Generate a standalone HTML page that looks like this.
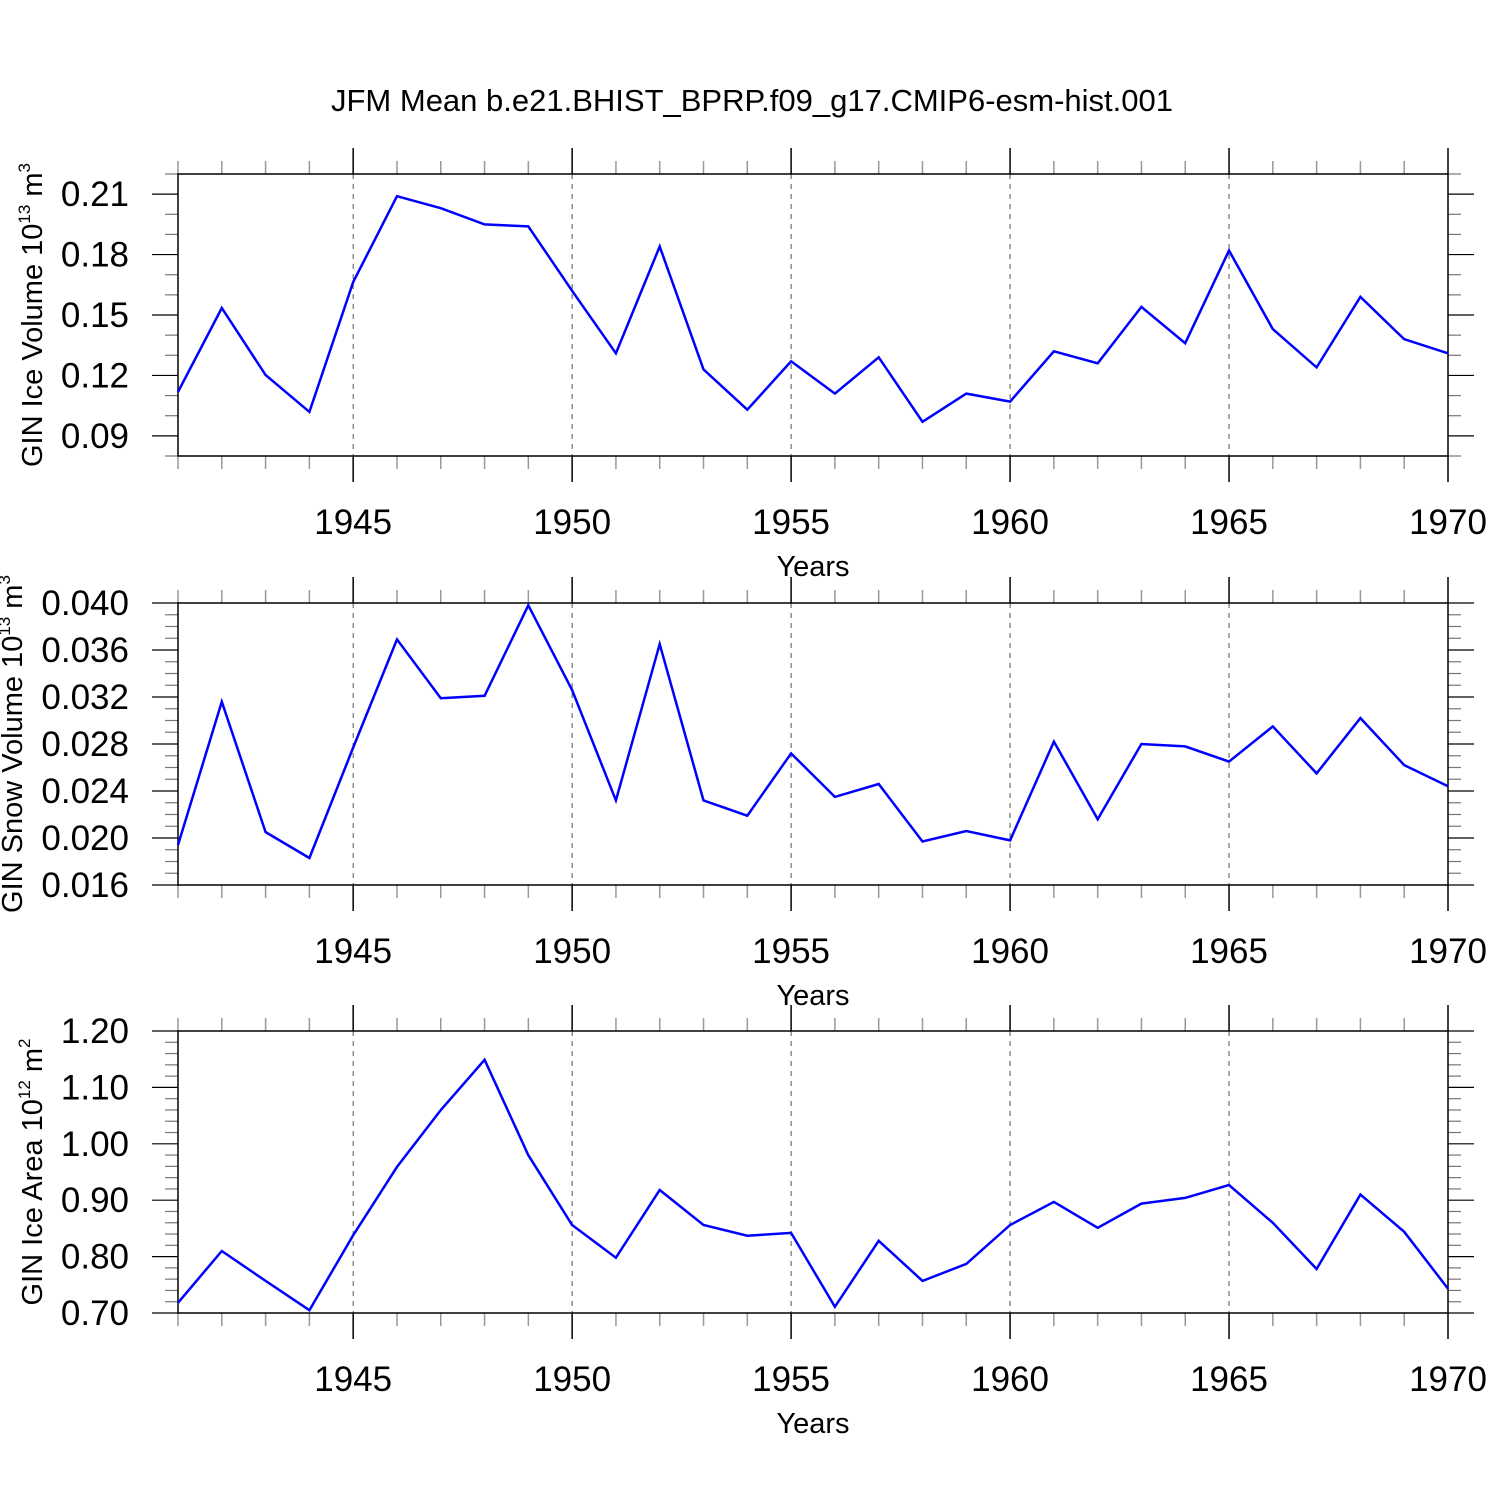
<!DOCTYPE html>
<html><head><meta charset="utf-8"><style>
body{margin:0;background:#fff}
svg{display:block;font-family:"Liberation Sans",sans-serif}
</style></head><body>
<svg id="chart" width="1500" height="1500" viewBox="0 0 1500 1500" xmlns="http://www.w3.org/2000/svg">
<rect width="1500" height="1500" fill="#fff"/>
<text x="752" y="111" font-size="31" text-anchor="middle">JFM Mean b.e21.BHIST_BPRP.f09_g17.CMIP6-esm-hist.001</text>
</svg>
<script>
const years = [1941,1942,1943,1944,1945,1946,1947,1948,1949,1950,1951,1952,1953,1954,1955,1956,1957,1958,1959,1960,1961,1962,1963,1964,1965,1966,1967,1968,1969,1970];
const xTickLabels = ["1945","1950","1955","1960","1965","1970"];
const iceVolume = [0.1118,0.1535,0.1202,0.1019,0.1664,0.209,0.203,0.195,0.194,0.162,0.131,0.184,0.123,0.103,0.127,0.111,0.129,0.097,0.111,0.107,0.132,0.126,0.154,0.136,0.182,0.143,0.124,0.159,0.138,0.131];
const snowVolume = [0.0194,0.0316,0.0205,0.0183,0.0277,0.0369,0.0319,0.0321,0.0398,0.0326,0.0232,0.0365,0.0232,0.0219,0.0272,0.0235,0.0246,0.0197,0.0206,0.0198,0.0282,0.0216,0.0280,0.0278,0.0265,0.0295,0.0255,0.0302,0.0262,0.0244];
const iceArea = [0.718,0.810,0.757,0.705,0.838,0.959,1.060,1.149,0.980,0.856,0.798,0.918,0.856,0.837,0.842,0.711,0.828,0.757,0.787,0.856,0.897,0.851,0.894,0.904,0.927,0.860,0.778,0.910,0.844,0.743];
const iceVolTicks = ["0.09","0.12","0.15","0.18","0.21"];
const snowTicks = ["0.016","0.020","0.024","0.028","0.032","0.036","0.040"];
const areaTicks = ["0.70","0.80","0.90","1.00","1.10","1.20"];

const NS="http://www.w3.org/2000/svg";
const svg=document.getElementById('chart');
function mk(tag,attrs,parent){const e=document.createElementNS(NS,tag);for(const k in attrs)e.setAttribute(k,attrs[k]);(parent||svg).appendChild(e);return e;}
const X0=178,X1=1448,YR0=1941,YR1=1970;
function xs(v){return X0+(v-YR0)/(YR1-YR0)*(X1-X0);}

function panel(name,top,ymin,ymax,minorStep,ticks,values,titleMain,titleExp,titleUnit,titleX){
  const bot=top+282;
  const g=mk('g',{});
  
  
  const ys=v=>bot-(v-ymin)/(ymax-ymin)*(bot-top);
  xTickLabels.forEach(l=>{const x=xs(+l);if(x<X1-1){const ln=mk('line',{x1:x,x2:x,y1:top,y2:bot,stroke:'#555','stroke-width':1,'stroke-dasharray':'5,5'},g);
    
    }});
  for(let yr=YR0;yr<=YR1;yr++){const x=xs(yr);const maj=(yr%5===0);const L=maj?26:13;
    mk('line',{x1:x,x2:x,y1:top-L,y2:top,stroke:maj?'#000':'#999','stroke-width':1.5},g);
    mk('line',{x1:x,x2:x,y1:bot,y2:bot+L,stroke:maj?'#000':'#999','stroke-width':1.5},g);}
  const n=Math.round((ymax-ymin)/minorStep);
  for(let i=0;i<=n;i++){const v=ymin+i*minorStep;const y=ys(v);
    const maj=ticks.some(t=>Math.abs(+t-v)<minorStep/10);const L=maj?26:13;
    mk('line',{x1:X0-L,x2:X0,y1:y,y2:y,stroke:maj?'#000':'#777','stroke-width':1.2},g);
    mk('line',{x1:X1,x2:X1+L,y1:y,y2:y,stroke:maj?'#000':'#777','stroke-width':1.2},g);}
  ticks.forEach(t=>{const tx=mk('text',{x:129,y:ys(+t)+12,'font-size':35,'text-anchor':'end'},g);tx.textContent=t;
    
    });
  xTickLabels.forEach(l=>{const tx=mk('text',{x:xs(+l),y:bot+78,'font-size':35,'text-anchor':'middle'},g);tx.textContent=l;
    
    });
  const xt=mk('text',{x:813,y:bot+120,'font-size':29,'text-anchor':'middle'},g);xt.textContent='Years';
  
  
  const fr=mk('rect',{x:X0,y:top,width:X1-X0,height:bot-top,fill:'none',stroke:'#000','stroke-width':1.5},g);
  
  
  const pts=values.map((v,i)=>xs(years[i]).toFixed(1)+','+ys(v).toFixed(1)).join(' ');
  const pl=mk('polyline',{points:pts,fill:'none',stroke:'#0000ff','stroke-width':2.5,'stroke-linejoin':'miter'},g);
  
  
  const cy=top+141;
  const t=mk('text',{x:0,y:0,'font-size':29,'text-anchor':'middle',transform:`translate(${titleX},${cy}) rotate(-90)`},g);
  
  
  const a=mk('tspan',{},t);a.textContent=titleMain;
  const b=mk('tspan',{dy:-12,'font-size':17},t);b.textContent=titleExp;
  const c=mk('tspan',{dy:12},t);c.textContent=' m';
  const d=mk('tspan',{dy:-12,'font-size':17},t);d.textContent=titleUnit;
}
panel('ice-volume',174,0.08,0.22,0.01,iceVolTicks,iceVolume,'GIN Ice Volume 10','13','3',42);
panel('snow-volume',603,0.016,0.040,0.001,snowTicks,snowVolume,'GIN Snow Volume 10','13','3',22);
panel('ice-area',1031,0.70,1.20,0.02,areaTicks,iceArea,'GIN Ice Area 10','12','2',42);
</script>
</body></html>
